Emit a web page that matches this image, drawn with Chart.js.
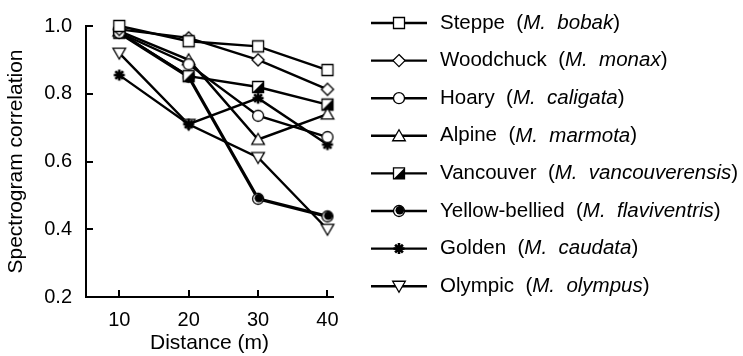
<!DOCTYPE html>
<html>
<head>
<meta charset="utf-8">
<script src="https://cdn.jsdelivr.net/npm/chart.js@4.4.0/dist/chart.umd.min.js"></script>
<style>
  html, body { margin: 0; padding: 0; background: #fff; }
</style>
</head>
<body>
<canvas id="chart" width="743" height="356"></canvas>
<script>
// data
var distances = [10, 20, 30, 40];
var xTicks = [10, 20, 30, 40];
var yTicks = [0.2, 0.4, 0.6, 0.8, 1.0];

var steppe        = [1.00, 0.955, 0.94, 0.87];
var woodchuck     = [0.99, 0.965, 0.90, 0.813];
var hoary         = [0.98, 0.887, 0.735, 0.672];
var alpine        = [0.985, 0.90, 0.665, 0.74];
var vancouver     = [0.98, 0.852, 0.82, 0.768];
var yellowBellied = [0.98, 0.85, 0.49, 0.438];
var golden        = [0.855, 0.71, 0.787, 0.65];
var olympic       = [0.92, 0.71, 0.612, 0.40];

var commonNames = ["Steppe", "Woodchuck", "Hoary", "Alpine", "Vancouver", "Yellow-bellied", "Golden", "Olympic"];
var latinNames  = ["bobak", "monax", "caligata", "marmota", "vancouverensis", "flaviventris", "caudata", "olympus"];
var markers     = ["square", "diamond", "circle", "triangle", "halfSquare", "dotCircle", "star", "invTriangle"];
var seriesList  = [steppe, woodchuck, hoary, alpine, vancouver, yellowBellied, golden, olympic];

var FONT = "'Liberation Sans', Arial, Helvetica, sans-serif";

function drawMarker(ctx, style, x, y) {
    var r = 5.5;
    ctx.save();
    ctx.lineWidth = 1.3;
    ctx.strokeStyle = "#000";
    ctx.fillStyle = "#fff";
    ctx.beginPath();
    if (style == "square" || style == "halfSquare") {
        ctx.rect(x - r, y - r, 2 * r, 2 * r);
        ctx.fill();
        if (style == "halfSquare") {
            ctx.fillStyle = "#000";
            ctx.beginPath();
            ctx.moveTo(x + r, y - r);
            ctx.lineTo(x + r, y + r);
            ctx.lineTo(x - r, y + r);
            ctx.closePath();
            ctx.fill();
            ctx.beginPath();
            ctx.rect(x - r, y - r, 2 * r, 2 * r);
        }
        ctx.stroke();
    } else if (style == "diamond") {
        var d = r * 1.1;
        ctx.moveTo(x, y - d);
        ctx.lineTo(x + d, y);
        ctx.lineTo(x, y + d);
        ctx.lineTo(x - d, y);
        ctx.closePath();
        ctx.fill();
        ctx.stroke();
    } else if (style == "circle" || style == "dotCircle") {
        ctx.arc(x, y, r, 0, Math.PI * 2);
        ctx.fill();
        ctx.stroke();
        if (style == "dotCircle") {
            ctx.fillStyle = "#000";
            ctx.beginPath();
            ctx.arc(x + 0.8, y - 0.8, r - 1.2, 0, Math.PI * 2);
            ctx.fill();
        }
    } else if (style == "triangle" || style == "invTriangle") {
        var s = style == "triangle" ? 1 : -1;
        ctx.moveTo(x, y - s * r * 1.1);
        ctx.lineTo(x + r * 1.15, y + s * r * 0.9);
        ctx.lineTo(x - r * 1.15, y + s * r * 0.9);
        ctx.closePath();
        ctx.fill();
        ctx.stroke();
    } else if (style == "star") {
        ctx.lineWidth = 2.6;
        for (var k = 0; k < 4; k++) {
            var a = k * Math.PI / 4;
            ctx.moveTo(x - Math.cos(a) * r, y - Math.sin(a) * r);
            ctx.lineTo(x + Math.cos(a) * r, y + Math.sin(a) * r);
        }
        ctx.stroke();
    }
    ctx.restore();
}

function markerImage(style) {
    var c = document.createElement("canvas");
    c.width = 18;
    c.height = 18;
    drawMarker(c.getContext("2d"), style, 9, 9);
    return c;
}

var datasets = [];
for (var i = 0; i < seriesList.length; i++) {
    datasets.push({
        label: commonNames[i],
        data: distances.map(function (d, j) { return { x: d, y: seriesList[i][j] }; }),
        borderColor: "#000",
        borderWidth: i == 5 ? 3.2 : 2.4,
        pointStyle: markerImage(markers[i]),
        pointRadius: 6,
        clip: false,
        tension: 0
    });
}

// inward tick marks and the custom legend
var extrasPlugin = {
    id: "extras",
    afterDraw: function (chart) {
        var ctx = chart.ctx;
        var xs = chart.scales.x, ys = chart.scales.y;
        var area = chart.chartArea;
        ctx.save();
        ctx.strokeStyle = "#000";
        ctx.lineWidth = 2;
        ctx.beginPath();
        xTicks.forEach(function (v) {
            var px = Math.round(xs.getPixelForValue(v));
            ctx.moveTo(px, area.bottom);
            ctx.lineTo(px, area.bottom - 7);
        });
        yTicks.forEach(function (v) {
            var py = Math.round(ys.getPixelForValue(v));
            ctx.moveTo(area.left, py);
            ctx.lineTo(area.left + 7, py);
        });
        ctx.stroke();

        // legend
        ctx.textBaseline = "middle";
        ctx.fillStyle = "#000";
        for (var i = 0; i < commonNames.length; i++) {
            var y = 23 + i * 37.6;
            ctx.lineWidth = 2.4;
            ctx.beginPath();
            ctx.moveTo(371, y);
            ctx.lineTo(427, y);
            ctx.stroke();
            drawMarker(ctx, markers[i], 399, y);
            var x = 440;
            ctx.font = "20.5px " + FONT;
            var t1 = commonNames[i] + "  (";
            ctx.fillText(t1, x, y);
            x += ctx.measureText(t1).width;
            ctx.font = "italic 20.5px " + FONT;
            var t2 = "M.  " + latinNames[i];
            ctx.fillText(t2, x, y);
            x += ctx.measureText(t2).width;
            ctx.font = "20.5px " + FONT;
            ctx.fillText(")", x, y);
        }
        ctx.restore();
    }
};

var config = {
    type: "line",
    data: { datasets: datasets },
    options: {
        responsive: false,
        animation: false,
        layout: { padding: { left: 0, right: 410, top: 16, bottom: 0 } },
        plugins: {
            legend: { display: false },
            tooltip: { enabled: false }
        },
        scales: {
            x: {
                type: "linear",
                min: 5.2,
                max: 40.8,
                afterBuildTicks: function (s) { s.ticks = xTicks.map(function (v) { return { value: v }; }); },
                afterFit: function (s) { s.height = 59; },
                grid: { display: false, drawTicks: false },
                border: { display: true, color: "#000", width: 2 },
                ticks: { color: "#000", padding: 11, font: { family: FONT, size: 20 } },
                title: {
                    display: true, text: "Distance (m)", color: "#000",
                    font: { family: FONT, size: 21 }, padding: { top: 0, bottom: 0 }
                }
            },
            y: {
                type: "linear",
                min: 0.2,
                max: 1.0,
                afterBuildTicks: function (s) { s.ticks = yTicks.map(function (v) { return { value: v }; }); },
                afterFit: function (s) { s.width = 86; },
                grid: { display: false, drawTicks: false },
                border: { display: true, color: "#000", width: 2 },
                ticks: {
                    color: "#000", padding: 14, font: { family: FONT, size: 20 },
                    callback: function (v) { return v.toFixed(1); }
                },
                title: {
                    display: true, text: "Spectrogram correlation", color: "#000",
                    font: { family: FONT, size: 21 }, padding: { top: 4, bottom: 0 }
                }
            }
        }
    },
    plugins: [extrasPlugin]
};

var ctx = document.getElementById("chart").getContext("2d");
window.myChart = new Chart(ctx, config);
</script>
</body>
</html>
